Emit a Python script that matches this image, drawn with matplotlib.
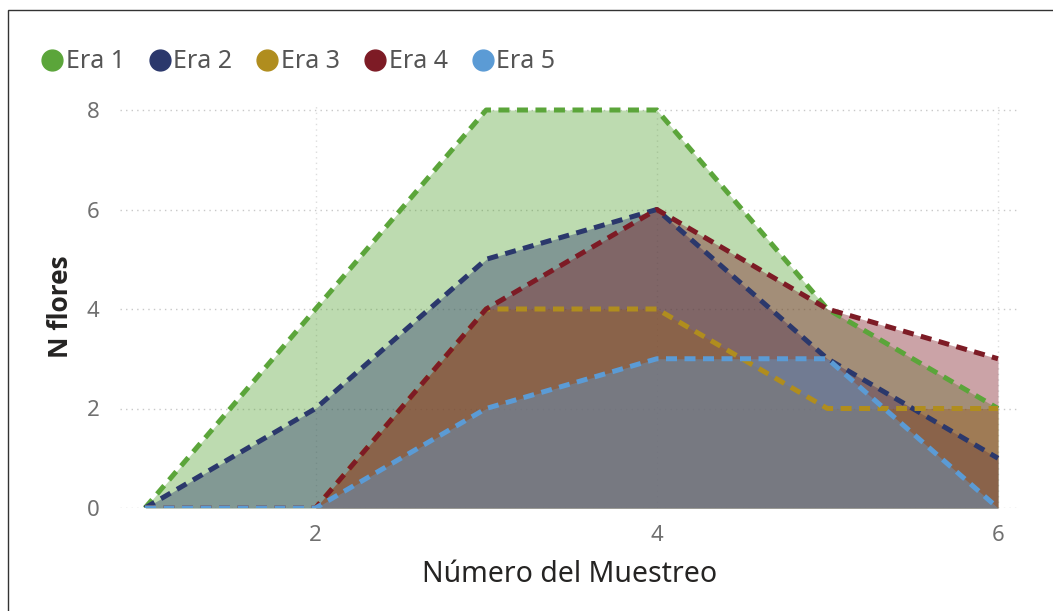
import matplotlib
matplotlib.use("Agg")
import matplotlib.pyplot as plt
from matplotlib.lines import Line2D
from matplotlib.patches import Rectangle

plt.rcParams['font.family'] = ['Noto Sans', 'DejaVu Sans']

muestreo = [1, 2, 3, 4, 5, 6]
series_names = ["Era 1", "Era 2", "Era 3", "Era 4", "Era 5"]
era1 = [0, 4, 8, 8, 4, 2]
era2 = [0, 2, 5, 6, 3, 1]
era3 = [0, 0, 4, 4, 2, 2]
era4 = [0, 0, 4, 6, 4, 3]
era5 = [0, 0, 2, 3, 3, 0]
colors = ["#5BA53A", "#2B386C", "#B08D1E", "#7D1B25", "#5B9BD5"]
yticks = [0, 2, 4, 6, 8]
xticks = [2, 4, 6]

fig = plt.figure(figsize=(10.53, 6.11), dpi=100)
ax = fig.add_axes([120/1053, 1-508/611, 900/1053, (508-105)/611])

for name, vals, c in zip(series_names, [era1, era2, era3, era4, era5], colors):
    ax.fill_between(muestreo, 0, vals, color=c, alpha=0.4, linewidth=0)
    ax.plot(muestreo, vals, color=c, lw=3.6, linestyle=(0, (2.2, 1.5)),
            solid_capstyle='butt', dash_capstyle='butt', solid_joinstyle='round')

ax.set_xlim(1 - 25/170.6, 6 + 22/170.6)
ax.set_ylim(0, 8 + 5/49.75)
ax.set_yticks(yticks)
ax.set_xticks(xticks)
ax.tick_params(axis='both', length=0, labelsize=16, labelcolor='#707070')
ax.tick_params(axis='y', pad=15)
ax.tick_params(axis='x', pad=12)
for s in ax.spines.values():
    s.set_visible(False)
ax.grid(axis='y', color='#C8C8C8', linestyle=(0, (1, 3)), lw=1)
ax.grid(axis='x', color='#DDDDDD', linestyle=(0, (1, 3)), lw=1)
ax.set_axisbelow(True)
ax.set_ylabel("N flores", fontsize=19, color='#252423', fontweight='bold',
              family=['Open Sans', 'DejaVu Sans'], labelpad=9)
ax.set_xlabel("Número del Muestreo", fontsize=20.5, color='#252423', labelpad=10)

handles = [Line2D([0], [0], marker='o', color='none', markerfacecolor=c,
                  markeredgecolor=c, markersize=15) for c in colors]
fig.legend(handles, series_names, loc='center left', bbox_to_anchor=(13/1053, 1-62/611),
           ncol=5, frameon=False, fontsize=18, handletextpad=-0.1,
           columnspacing=0.75, handlelength=1.3, labelcolor='#555555')

fig.patches.append(Rectangle((8/1053, -0.01), 1.02, 1 - 10/611 + 0.01,
                             transform=fig.transFigure, fill=False,
                             edgecolor='#333333', lw=1))

fig.savefig("out.png", dpi=100)
